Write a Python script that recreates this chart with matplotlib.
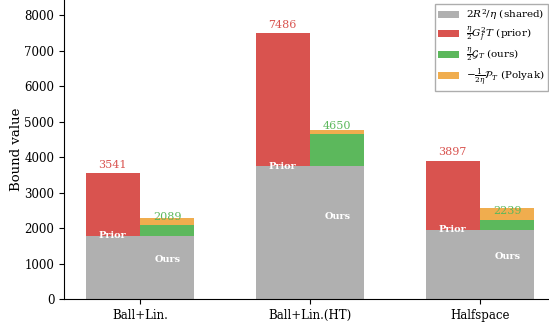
import matplotlib
matplotlib.use("Agg")
import matplotlib.pyplot as plt
import numpy as np

plt.rcParams['font.family'] = ['DejaVu Serif']
plt.rcParams['mathtext.fontset'] = 'dejavuserif'

categories = ["Ball+Lin.", "Ball+Lin.(HT)", "Halfspace"]
shared = [1775, 3735, 1944]          # 2R^2/eta
prior_total = [3541, 7486, 3897]     # shared + eta/2 G^2 T
ours_total = [2089, 4650, 2239]      # shared + eta/2 G_T
polyak = [190, 110, 320]             # -1/(2 eta) P_T

c_gray = "#b0b0b0"
c_red = "#d9534f"
c_green = "#5cb85c"
c_orange = "#f0ad4e"

fig = plt.figure(figsize=(5.49, 3.23), dpi=100)
ax = fig.add_axes([64/549, 24/323, 484/549, 299/323])

x = np.arange(len(categories))
w = 0.32
shared = np.array(shared)
prior_total = np.array(prior_total)
ours_total = np.array(ours_total)
polyak = np.array(polyak)

xp = x - w/2
xo = x + w/2

ax.bar(xp, shared, w, color=c_gray, label=r"$2R^2/\eta$ (shared)")
ax.bar(xp, prior_total - shared, w, bottom=shared, color=c_red,
       label=r"$\frac{\eta}{2}G_f^2T$ (prior)")
ax.bar(xo, shared, w, color=c_gray)
ax.bar(xo, ours_total - shared, w, bottom=shared, color=c_green,
       label=r"$\frac{\eta}{2}\mathcal{G}_T$ (ours)")
ax.bar(xo, polyak, w, bottom=ours_total, color=c_orange,
       label=r"$-\frac{1}{2\eta}\mathcal{P}_T$ (Polyak)")

for i in range(len(categories)):
    ax.text(xp[i], prior_total[i] + 90, f"{prior_total[i]}", ha='center',
            va='bottom', color=c_red, fontsize=8)
    ax.text(xo[i], ours_total[i] + 90, f"{ours_total[i]}", ha='center',
            va='bottom', color=c_green, fontsize=8)
    ax.text(xp[i], shared[i], "Prior", ha='center', va='center',
            color='white', fontsize=7, fontweight='bold')
    ax.text(xo[i], shared[i] * 0.62, "Ours", ha='center', va='center',
            color='white', fontsize=7, fontweight='bold')

ax.set_xlim(-0.447, 2.4)
ax.set_ylim(0, 8423)
ax.set_xticks(x)
ax.set_xticklabels(categories, fontsize=8.5)
ax.set_yticks(np.arange(0, 8001, 1000))
ax.tick_params(axis='y', labelsize=8.5)
ax.set_ylabel("Bound value", fontsize=9.5, labelpad=1)
ax.spines['top'].set_visible(False)
ax.spines['right'].set_visible(False)

leg = ax.legend(loc='upper right', fontsize=7.5, frameon=True, fancybox=False,
                edgecolor='#999999', bbox_to_anchor=(1.0, 0.985),
                borderaxespad=0.0, handlelength=2.0, handletextpad=0.7,
                borderpad=0.3, labelspacing=0.18)

fig.savefig("out.png", dpi=100)
